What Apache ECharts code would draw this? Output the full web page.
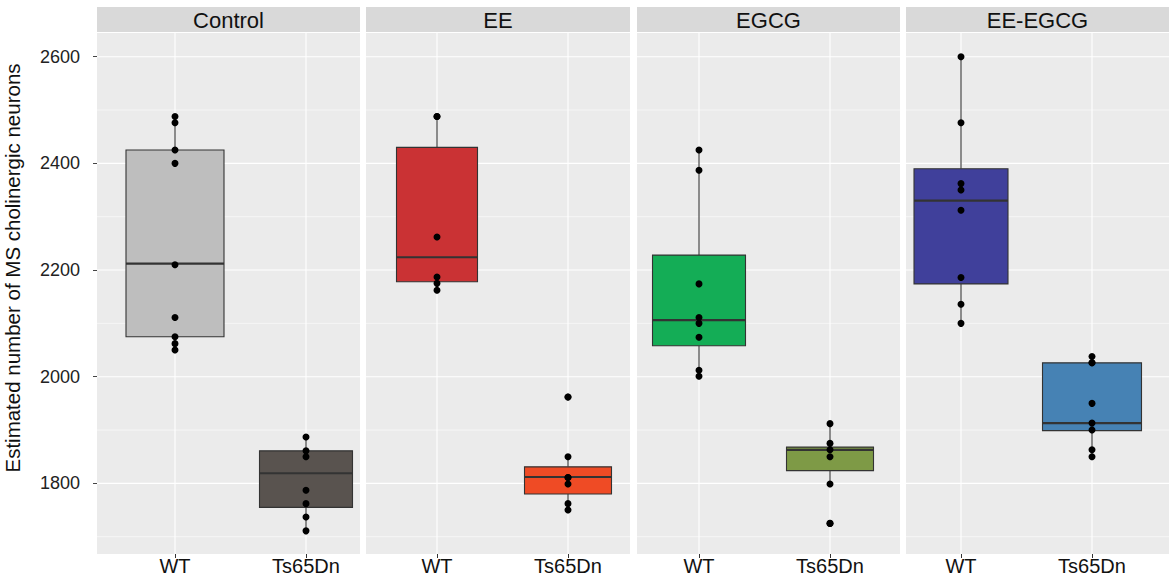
<!DOCTYPE html>
<html>
<head>
<meta charset="utf-8">
<script src="https://cdn.jsdelivr.net/npm/echarts@6/dist/echarts.min.js"></script>
<style>html,body{margin:0;padding:0;background:#fff;}#c{width:1174px;height:583px;}</style>
</head>
<body>
<div id="c"></div>
<script>
// ---- data ----
const FACETS = ['Control', 'EE', 'EGCG', 'EE-EGCG'];
const GENOTYPES = ['WT', 'Ts65Dn'];
const Y_TITLE = 'Estimated number of MS cholinergic neurons';
const MAJOR_TICKS = [1800, 2000, 2200, 2400, 2600];
const MINOR_TICKS = [1700, 1900, 2100, 2300, 2500];
// box stats per group (facet x genotype): [lower whisker, Q1, median, Q3, upper whisker]
const BOX_CONTROL_WT = [2050, 2075, 2212, 2425, 2488];
const BOX_CONTROL_TS = [1711, 1755, 1819, 1861, 1887];
const BOX_EE_WT = [2162, 2178, 2224, 2430, 2488];
const BOX_EE_TS = [1750, 1780, 1812, 1831, 1850];
const BOX_EGCG_WT = [2001, 2058, 2106, 2228, 2425];
const BOX_EGCG_TS = [1799, 1824, 1863, 1868, 1912];
const BOX_EEEGCG_WT = [2100, 2174, 2330, 2390, 2600];
const BOX_EEEGCG_TS = [1850, 1899, 1913, 2026, 2038];
// individual animals
const PTS_CONTROL_WT = [2488, 2476, 2425, 2400, 2210, 2111, 2075, 2062, 2050];
const PTS_CONTROL_TS = [1887, 1861, 1850, 1787, 1762, 1737, 1711];
const PTS_EE_WT = [2488, 2488, 2262, 2187, 2175, 2162];
const PTS_EE_TS = [1962, 1962, 1850, 1811, 1811, 1799, 1762, 1750];
const PTS_EGCG_WT = [2425, 2387, 2174, 2111, 2100, 2074, 2012, 2001];
const PTS_EGCG_TS = [1912, 1875, 1863, 1850, 1799, 1725, 1725];
const PTS_EEEGCG_WT = [2600, 2476, 2362, 2350, 2312, 2186, 2136, 2100];
const PTS_EEEGCG_TS = [2038, 2026, 2026, 1950, 1913, 1900, 1863, 1850];

// ---- styles / layout ----
const FILLS = ['#BEBEBE', '#59534F', '#CA3234', '#EF4B25', '#14AD56', '#7E9A46', '#40409B', '#4682B4'];
const BOX_W = [98, 93, 81, 87, 93, 87, 94, 99];
const PANELS = [[97, 360], [366, 630], [637, 900], [906, 1169]];
const TOP = 33, HEIGHT = 521;
const Y_MIN = 1667.6, Y_MAX = 2644.4;
const FONT = 'Liberation Sans, Arial, sans-serif';

const BOXES = [BOX_CONTROL_WT, BOX_CONTROL_TS, BOX_EE_WT, BOX_EE_TS, BOX_EGCG_WT, BOX_EGCG_TS, BOX_EEEGCG_WT, BOX_EEEGCG_TS];
const POINTS = [PTS_CONTROL_WT, PTS_CONTROL_TS, PTS_EE_WT, PTS_EE_TS, PTS_EGCG_WT, PTS_EGCG_TS, PTS_EEEGCG_WT, PTS_EEEGCG_TS];
const CATS = [];
FACETS.forEach(f => GENOTYPES.forEach(g => CATS.push(f + '|' + g)));

const chart = echarts.init(document.getElementById('c'), null, {renderer: 'svg'});

const grids = PANELS.map(p => ({left: p[0], top: TOP, width: p[1] - p[0], height: HEIGHT,
  show: true, backgroundColor: '#EBEBEB', borderWidth: 0, outerBoundsMode: 'none'}));
grids.push({left: 109.5, top: TOP, width: 1048, height: HEIGHT, show: false, outerBoundsMode: 'none'});

const xAxes = PANELS.map((p, i) => ({type: 'value', gridIndex: i, min: 0, max: 1, show: false}));
xAxes.push({
  type: 'category', gridIndex: 4, data: CATS, boundaryGap: true,
  axisLine: {show: false},
  axisTick: {show: true, alignWithLabel: true, length: 4, lineStyle: {color: '#333', width: 1}},
  axisLabel: {interval: 0, margin: 2, fontSize: 20, color: '#111111', fontFamily: FONT,
    formatter: v => v.split('|')[1]},
  splitLine: {show: false}
});

const yAxes = PANELS.map((p, i) => ({
  type: 'value', gridIndex: i, min: Y_MIN, max: Y_MAX, show: i === 0,
  axisLine: {show: false},
  axisTick: {show: i === 0, length: 4, customValues: MAJOR_TICKS, lineStyle: {color: '#444', width: 1}},
  axisLabel: {show: i === 0, customValues: MAJOR_TICKS, fontSize: 18, color: '#222222', margin: 17, fontFamily: FONT,
    formatter: v => String(v)},
  splitLine: {show: false},
  name: i === 0 ? Y_TITLE : '', nameLocation: 'middle', nameGap: 74,
  nameTextStyle: {fontSize: 20.5, color: '#111111', fontFamily: FONT, padding: [0, 0, 0, 51]}
}));
yAxes.push({type: 'value', gridIndex: 4, min: Y_MIN, max: Y_MAX, show: false});

const series = [];
// horizontal panel grid lines
PANELS.forEach((p, i) => {
  const lines = MINOR_TICKS.map(v => [0.5, v, 0]).concat(MAJOR_TICKS.map(v => [0.5, v, 1]));
  series.push({
    type: 'custom', xAxisIndex: i, yAxisIndex: i, z: 1, silent: true,
    data: lines,
    renderItem: (params, api) => {
      const cs = params.coordSys;
      const y = api.coord([0.5, api.value(1)])[1];
      const major = api.value(2) === 1;
      return {type: 'line', shape: {x1: cs.x, y1: y, x2: cs.x + cs.width, y2: y},
        style: {stroke: '#FFFFFF', lineWidth: major ? 1.1 : 0.55}};
    }
  });
});
// vertical grid lines at category positions
series.push({
  type: 'custom', xAxisIndex: 4, yAxisIndex: 4, z: 1, silent: true,
  data: CATS.map((c, i) => [i, Y_MIN]),
  renderItem: (params, api) => {
    const cs = params.coordSys;
    const x = api.coord([api.value(0), Y_MIN])[0];
    return {type: 'line', shape: {x1: x, y1: cs.y, x2: x, y2: cs.y + cs.height},
      style: {stroke: '#FFFFFF', lineWidth: 1.1}};
  }
});
// boxplots
series.push({
  type: 'custom', xAxisIndex: 4, yAxisIndex: 4, z: 3, silent: true,
  data: BOXES.map((b, i) => [i].concat(b)),
  encode: {x: 0, y: [1, 2, 3, 4, 5]},
  renderItem: (params, api) => {
    const i = params.dataIndex;
    const x = api.value(0);
    const lo = api.coord([x, api.value(1)]);
    const q1 = api.coord([x, api.value(2)]);
    const md = api.coord([x, api.value(3)]);
    const q3 = api.coord([x, api.value(4)]);
    const hi = api.coord([x, api.value(5)]);
    const w = BOX_W[i];
    const cx = lo[0];
    const stroke = '#333333';
    return {type: 'group', children: [
      {type: 'line', shape: {x1: cx, y1: hi[1], x2: cx, y2: q3[1]}, style: {stroke, lineWidth: 1.1}},
      {type: 'line', shape: {x1: cx, y1: q1[1], x2: cx, y2: lo[1]}, style: {stroke, lineWidth: 1.1}},
      {type: 'rect', shape: {x: cx - w / 2, y: q3[1], width: w, height: q1[1] - q3[1]},
        style: {fill: FILLS[i], stroke, lineWidth: 1.1}},
      {type: 'line', shape: {x1: cx - w / 2, y1: md[1], x2: cx + w / 2, y2: md[1]}, style: {stroke, lineWidth: 2.2}}
    ]};
  }
});
// points
const pts = [];
POINTS.forEach((arr, i) => arr.forEach(v => pts.push([i, v])));
series.push({
  type: 'scatter', xAxisIndex: 4, yAxisIndex: 4, z: 4, silent: true,
  data: pts, symbol: 'circle', symbolSize: 7,
  itemStyle: {color: '#000000', opacity: 1}
});

const graphic = [];
PANELS.forEach((p, i) => {
  graphic.push({type: 'rect', silent: true, shape: {x: p[0], y: 7, width: p[1] - p[0], height: 25}, style: {fill: '#D9D9D9'}});
  graphic.push({type: 'text', silent: true, x: (p[0] + p[1]) / 2, y: 20,
    style: {text: FACETS[i], fontSize: 22, fontFamily: FONT, fill: '#111111', align: 'center', verticalAlign: 'middle'}});
});

chart.setOption({
  animation: false,
  backgroundColor: '#FFFFFF',
  grid: grids, xAxis: xAxes, yAxis: yAxes, series, graphic
});
</script>
</body>
</html>
